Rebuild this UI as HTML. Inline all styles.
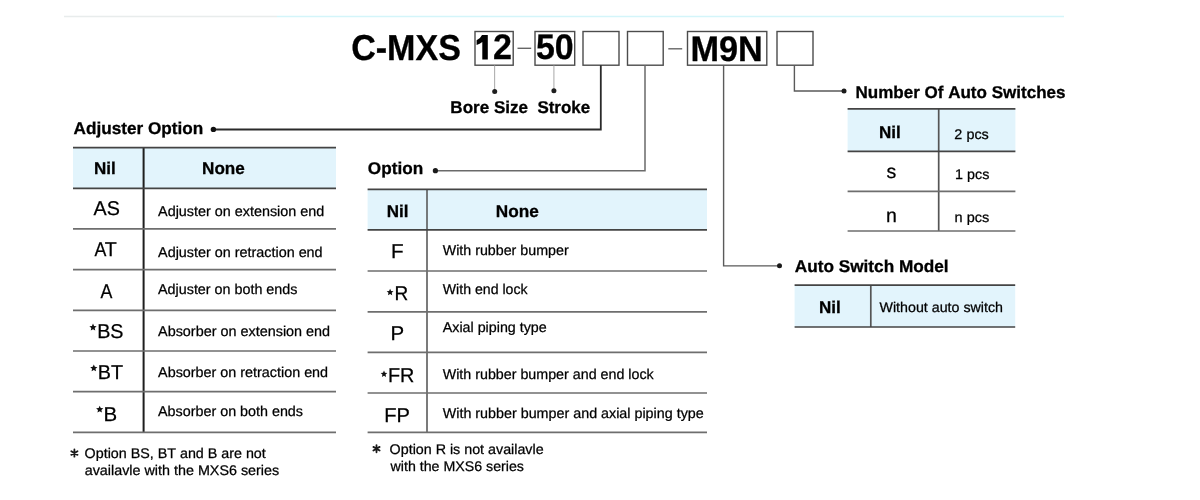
<!DOCTYPE html>
<html><head><meta charset="utf-8"><style>
html,body{margin:0;padding:0;background:#fff;}
body{width:1200px;height:500px;overflow:hidden;}
svg{display:block;filter:blur(0.4px);font-family:"Liberation Sans",sans-serif;font-kerning:none;text-rendering:geometricPrecision;}
text{stroke:#000;stroke-width:0.25px;}
text[font-weight="700"]{stroke-width:0.3px;}
</style></head><body>
<svg width="1200" height="500" viewBox="0 0 1200 500">
<rect x="0" y="0" width="1200" height="500" fill="#ffffff"/>
<line x1="64" y1="16.5" x2="277" y2="16.5" stroke="#e8ecec" stroke-width="1.6"/>
<line x1="277" y1="16.5" x2="1064" y2="16.5" stroke="#d4f5fa" stroke-width="1.6"/>
<rect x="475" y="31.5" width="38.200000000000045" height="33.7" fill="none" stroke="#4c4c4c" stroke-width="1.4"/>
<rect x="535" y="31.5" width="39.700000000000045" height="33.7" fill="none" stroke="#4c4c4c" stroke-width="1.4"/>
<rect x="583" y="31.5" width="36" height="33.7" fill="none" stroke="#4c4c4c" stroke-width="1.4"/>
<rect x="627.5" y="31.5" width="35.700000000000045" height="33.7" fill="none" stroke="#4c4c4c" stroke-width="1.4"/>
<rect x="687.5" y="31.5" width="79.29999999999995" height="33.7" fill="none" stroke="#4c4c4c" stroke-width="1.4"/>
<rect x="777" y="31.5" width="36" height="33.7" fill="none" stroke="#4c4c4c" stroke-width="1.4"/>
<line x1="517.5" y1="48.3" x2="531.2" y2="48.3" stroke="#666" stroke-width="1.4"/>
<line x1="668.3" y1="48.8" x2="682.2" y2="48.8" stroke="#666" stroke-width="1.4"/>
<text x="351.20" y="59.80" font-size="36" font-weight="700" fill="#000" textLength="109.73" lengthAdjust="spacingAndGlyphs">C-MXS</text>
<path d="M487.8,35 L487.8,59.5 L482.3,59.5 L482.3,41.9 Q479.8,43.9 476.6,45 L476.6,40.3 Q480.3,38.7 482.0,35 Z" fill="#000"/>
<text x="493.02" y="59.20" font-size="35.5" font-weight="700" fill="#000" textLength="18.94" lengthAdjust="spacingAndGlyphs">2</text>
<text x="535.96" y="59.30" font-size="35.5" font-weight="700" fill="#000" textLength="37.74" lengthAdjust="spacingAndGlyphs">50</text>
<text x="690.51" y="60.60" font-size="35.5" font-weight="700" fill="#000" textLength="72.30" lengthAdjust="spacingAndGlyphs">M9N</text>
<line x1="494.6" y1="65.5" x2="494.6" y2="90" stroke="#b0b0b0" stroke-width="1.1"/>
<circle cx="494.7" cy="91.6" r="2.5" fill="#1e1e1e"/>
<line x1="553.9" y1="65.5" x2="553.9" y2="89" stroke="#b0b0b0" stroke-width="1.1"/>
<circle cx="553.9" cy="90.7" r="2.5" fill="#1e1e1e"/>
<text x="450.36" y="112.80" font-size="17" font-weight="700" fill="#000" textLength="77.62" lengthAdjust="spacingAndGlyphs">Bore Size</text>
<text x="537.41" y="112.80" font-size="17" font-weight="700" fill="#000" textLength="52.77" lengthAdjust="spacingAndGlyphs">Stroke</text>
<polyline points="600.8,65.2 600.8,129.5 213.4,129.5" fill="none" stroke="#2a2a2a" stroke-width="1.8" stroke-linejoin="miter"/>
<circle cx="213.4" cy="129.4" r="2.7" fill="#111"/>
<polyline points="645,65.2 645,170.8 435.4,170.8" fill="none" stroke="#6a6a6a" stroke-width="1.5" stroke-linejoin="miter"/>
<circle cx="435.4" cy="170.7" r="2.6" fill="#1a1a1a"/>
<polyline points="723.6,65.2 723.6,265.9 779.5,265.9" fill="none" stroke="#5a5a5a" stroke-width="1.4" stroke-linejoin="miter"/>
<circle cx="779.5" cy="265.8" r="2.5" fill="#1a1a1a"/>
<polyline points="794.4,65.2 794.4,91 844,91" fill="none" stroke="#5a5a5a" stroke-width="1.4" stroke-linejoin="miter"/>
<circle cx="844" cy="91" r="2.5" fill="#1a1a1a"/>
<text x="73.57" y="134.40" font-size="17" font-weight="700" fill="#000" textLength="129.69" lengthAdjust="spacingAndGlyphs">Adjuster Option</text>
<text x="367.89" y="173.60" font-size="17" font-weight="700" fill="#000" textLength="55.37" lengthAdjust="spacingAndGlyphs">Option</text>
<text x="855.46" y="97.60" font-size="17" font-weight="700" fill="#000" textLength="210.04" lengthAdjust="spacingAndGlyphs">Number Of Auto Switches</text>
<text x="794.77" y="271.80" font-size="17" font-weight="700" fill="#000" textLength="153.85" lengthAdjust="spacingAndGlyphs">Auto Switch Model</text>
<rect x="73" y="147.7" width="263" height="40.60000000000002" fill="#e2f4fc"/>
<line x1="143.6" y1="147.7" x2="143.6" y2="432.4" stroke="#1e1e1e" stroke-width="2"/>
<line x1="73" y1="147.7" x2="336" y2="147.7" stroke="#444" stroke-width="1.7"/>
<line x1="73" y1="188.3" x2="336" y2="188.3" stroke="#444" stroke-width="1.7"/>
<line x1="73" y1="228.8" x2="336" y2="228.8" stroke="#6e6e6e" stroke-width="1.7"/>
<line x1="73" y1="269.6" x2="336" y2="269.6" stroke="#6e6e6e" stroke-width="1.7"/>
<line x1="73" y1="310.3" x2="336" y2="310.3" stroke="#6e6e6e" stroke-width="1.7"/>
<line x1="73" y1="351" x2="336" y2="351" stroke="#6e6e6e" stroke-width="1.7"/>
<line x1="73" y1="391.6" x2="336" y2="391.6" stroke="#6e6e6e" stroke-width="1.7"/>
<line x1="73" y1="432.4" x2="336" y2="432.4" stroke="#6e6e6e" stroke-width="1.7"/>
<text x="94.06" y="173.60" font-size="17" font-weight="700" fill="#000">Nil</text>
<text x="202.06" y="174.00" font-size="17" font-weight="700" fill="#000" textLength="42.73" lengthAdjust="spacingAndGlyphs">None</text>
<text x="93.56" y="215.40" font-size="20" font-weight="400" fill="#000" textLength="26.35" lengthAdjust="spacingAndGlyphs">AS</text>
<text x="94.47" y="256.30" font-size="20" font-weight="400" fill="#000" textLength="11.87" lengthAdjust="spacingAndGlyphs">A</text>
<text x="104.86" y="256.30" font-size="20" font-weight="400" fill="#000" textLength="11.99" lengthAdjust="spacingAndGlyphs">T</text>
<text x="100.57" y="297.60" font-size="20" font-weight="400" fill="#000" textLength="11.87" lengthAdjust="spacingAndGlyphs">A</text>
<text x="97.18" y="338.30" font-size="20" font-weight="400" fill="#000" textLength="26.32" lengthAdjust="spacingAndGlyphs">BS</text>
<text x="97.78" y="379.30" font-size="20" font-weight="400" fill="#000" textLength="25.28" lengthAdjust="spacingAndGlyphs">BT</text>
<text x="103.42" y="420.50" font-size="20" font-weight="400" fill="#000" textLength="13.66" lengthAdjust="spacingAndGlyphs">B</text>
<polygon points="93.00,323.60 94.06,325.94 96.61,326.23 94.71,327.96 95.23,330.47 93.00,329.20 90.77,330.47 91.29,327.96 89.39,326.23 91.94,325.94" fill="#111"/>
<polygon points="93.80,364.50 94.86,366.84 97.41,367.13 95.51,368.86 96.03,371.37 93.80,370.10 91.57,371.37 92.09,368.86 90.19,367.13 92.74,366.84" fill="#111"/>
<polygon points="99.70,405.70 100.76,408.04 103.31,408.33 101.41,410.06 101.93,412.57 99.70,411.30 97.47,412.57 97.99,410.06 96.09,408.33 98.64,408.04" fill="#111"/>
<text x="158.07" y="216.00" font-size="14.2" font-weight="400" fill="#000" textLength="166.15" lengthAdjust="spacingAndGlyphs">Adjuster on extension end</text>
<text x="158.07" y="256.90" font-size="14.2" font-weight="400" fill="#000" textLength="164.55" lengthAdjust="spacingAndGlyphs">Adjuster on retraction end</text>
<text x="158.07" y="294.00" font-size="14.2" font-weight="400" fill="#000" textLength="139.35" lengthAdjust="spacingAndGlyphs">Adjuster on both ends</text>
<text x="158.07" y="335.70" font-size="14.2" font-weight="400" fill="#000" textLength="172.06" lengthAdjust="spacingAndGlyphs">Absorber on extension end</text>
<text x="158.07" y="376.70" font-size="14.2" font-weight="400" fill="#000" textLength="170.05" lengthAdjust="spacingAndGlyphs">Absorber on retraction end</text>
<text x="158.07" y="415.60" font-size="14.2" font-weight="400" fill="#000" textLength="144.95" lengthAdjust="spacingAndGlyphs">Absorber on both ends</text>
<path d="M74.40,449.50L74.40,456.70M71.28,451.30L77.52,454.90M77.52,451.30L71.28,454.90" stroke="#1a1a1a" stroke-width="1.8" stroke-linecap="round" fill="none"/>
<text x="84.62" y="458.10" font-size="14" font-weight="400" fill="#000" textLength="181.18" lengthAdjust="spacingAndGlyphs">Option BS, BT and B are not</text>
<text x="84.69" y="474.70" font-size="14" font-weight="400" fill="#000" textLength="194.53" lengthAdjust="spacingAndGlyphs">availavle with the MXS6 series</text>
<rect x="367.6" y="189.3" width="339.4" height="40.5" fill="#e2f4fc"/>
<line x1="427" y1="189.3" x2="427" y2="432.4" stroke="#5a5a5a" stroke-width="1.6"/>
<line x1="367.6" y1="189.3" x2="707" y2="189.3" stroke="#444" stroke-width="1.7"/>
<line x1="367.6" y1="229.8" x2="707" y2="229.8" stroke="#444" stroke-width="1.7"/>
<line x1="367.6" y1="271" x2="707" y2="271" stroke="#6e6e6e" stroke-width="1.7"/>
<line x1="367.6" y1="311.8" x2="707" y2="311.8" stroke="#6e6e6e" stroke-width="1.7"/>
<line x1="367.6" y1="352.4" x2="707" y2="352.4" stroke="#6e6e6e" stroke-width="1.7"/>
<line x1="367.6" y1="393" x2="707" y2="393" stroke="#6e6e6e" stroke-width="1.7"/>
<line x1="367.6" y1="432.4" x2="707" y2="432.4" stroke="#6e6e6e" stroke-width="1.7"/>
<text x="386.66" y="217.20" font-size="17" font-weight="700" fill="#000">Nil</text>
<text x="495.75" y="217.30" font-size="17" font-weight="700" fill="#000" textLength="43.04" lengthAdjust="spacingAndGlyphs">None</text>
<text x="390.90" y="258.40" font-size="20" font-weight="400" fill="#000" textLength="12.62" lengthAdjust="spacingAndGlyphs">F</text>
<text x="394.54" y="299.60" font-size="20" font-weight="400" fill="#000" textLength="13.74" lengthAdjust="spacingAndGlyphs">R</text>
<text x="390.52" y="340.40" font-size="20" font-weight="400" fill="#000" textLength="13.66" lengthAdjust="spacingAndGlyphs">P</text>
<text x="387.97" y="381.60" font-size="20" font-weight="400" fill="#000" textLength="26.45" lengthAdjust="spacingAndGlyphs">FR</text>
<text x="384.15" y="422.40" font-size="20" font-weight="400" fill="#000" textLength="25.71" lengthAdjust="spacingAndGlyphs">FP</text>
<polygon points="390.10,288.70 391.10,290.92 393.52,291.19 391.72,292.83 392.22,295.21 390.10,294.00 387.98,295.21 388.48,292.83 386.68,291.19 389.10,290.92" fill="#111"/>
<polygon points="384.00,370.60 384.97,372.77 387.33,373.02 385.57,374.61 386.06,376.93 384.00,375.75 381.94,376.93 382.43,374.61 380.67,373.02 383.03,372.77" fill="#111"/>
<text x="442.74" y="254.50" font-size="14.2" font-weight="400" fill="#000" textLength="125.90" lengthAdjust="spacingAndGlyphs">With rubber bumper</text>
<text x="442.74" y="293.60" font-size="14.2" font-weight="400" fill="#000" textLength="84.84" lengthAdjust="spacingAndGlyphs">With end lock</text>
<text x="442.77" y="332.00" font-size="14.2" font-weight="400" fill="#000" textLength="103.96" lengthAdjust="spacingAndGlyphs">Axial piping type</text>
<text x="442.74" y="379.20" font-size="14.2" font-weight="400" fill="#000" textLength="210.94" lengthAdjust="spacingAndGlyphs">With rubber bumper and end lock</text>
<text x="442.74" y="417.70" font-size="14.2" font-weight="400" fill="#000" textLength="261.00" lengthAdjust="spacingAndGlyphs">With rubber bumper and axial piping type</text>
<path d="M376.50,445.10L376.50,452.30M373.38,446.90L379.62,450.50M379.62,446.90L373.38,450.50" stroke="#1a1a1a" stroke-width="1.8" stroke-linecap="round" fill="none"/>
<text x="389.62" y="454.20" font-size="14" font-weight="400" fill="#000" textLength="154.01" lengthAdjust="spacingAndGlyphs">Option R is not availavle</text>
<text x="390.62" y="470.80" font-size="14" font-weight="400" fill="#000" textLength="133.29" lengthAdjust="spacingAndGlyphs">with the MXS6 series</text>
<rect x="847.6" y="108.9" width="167.79999999999995" height="42.400000000000006" fill="#e2f4fc"/>
<line x1="938.7" y1="108.9" x2="938.7" y2="231" stroke="#555" stroke-width="1.7"/>
<line x1="847.6" y1="108.9" x2="1015.4" y2="108.9" stroke="#444" stroke-width="1.7"/>
<line x1="847.6" y1="151.3" x2="1015.4" y2="151.3" stroke="#444" stroke-width="1.7"/>
<line x1="847.6" y1="191.4" x2="1015.4" y2="191.4" stroke="#6e6e6e" stroke-width="1.7"/>
<line x1="847.6" y1="231" x2="1015.4" y2="231" stroke="#6e6e6e" stroke-width="1.7"/>
<text x="879.06" y="138.40" font-size="17" font-weight="700" fill="#000">Nil</text>
<text x="886.51" y="178.40" font-size="19.5" font-weight="400" fill="#000">s</text>
<text x="886.06" y="221.60" font-size="19.5" font-weight="400" fill="#000">n</text>
<text x="954.38" y="138.60" font-size="14" font-weight="400" fill="#000" textLength="34.45" lengthAdjust="spacingAndGlyphs">2 pcs</text>
<text x="955.11" y="178.50" font-size="14" font-weight="400" fill="#000" textLength="34.21" lengthAdjust="spacingAndGlyphs">1 pcs</text>
<text x="954.64" y="221.50" font-size="14" font-weight="400" fill="#000" textLength="34.69" lengthAdjust="spacingAndGlyphs">n pcs</text>
<rect x="794.6" y="285.1" width="220.60000000000002" height="41.89999999999998" fill="#e2f4fc"/>
<line x1="870.8" y1="285.1" x2="870.8" y2="327" stroke="#555" stroke-width="1.7"/>
<line x1="794.6" y1="285.1" x2="1015.2" y2="285.1" stroke="#444" stroke-width="1.7"/>
<line x1="794.6" y1="327" x2="1015.2" y2="327" stroke="#444" stroke-width="1.7"/>
<text x="819.06" y="312.50" font-size="17" font-weight="700" fill="#000">Nil</text>
<text x="879.54" y="312.10" font-size="14" font-weight="400" fill="#000" textLength="123.39" lengthAdjust="spacingAndGlyphs">Without auto switch</text>
</svg>
</body></html>
